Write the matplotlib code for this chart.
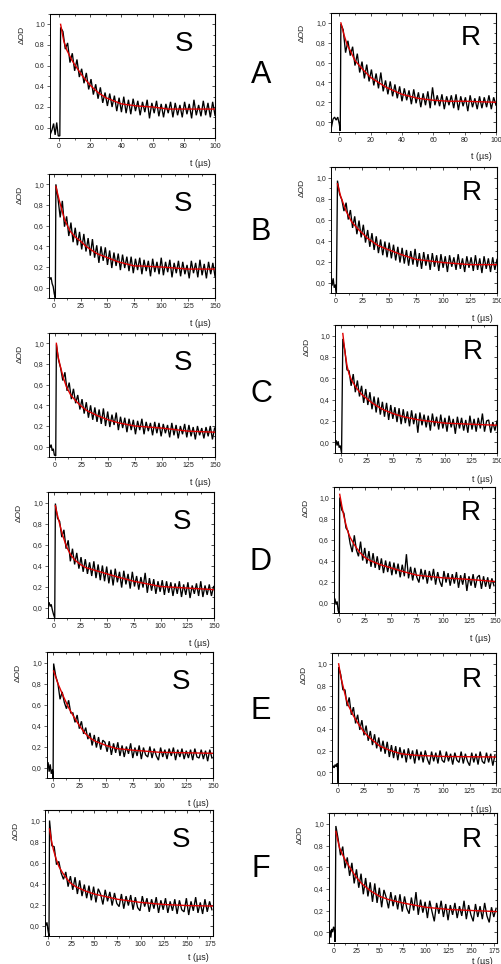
import numpy as np
import matplotlib
matplotlib.use("Agg")
import matplotlib.pyplot as plt
from matplotlib.ticker import FuncFormatter, MultipleLocator

plt.rcParams['font.family'] = ['Liberation Sans', 'DejaVu Sans']

W, H = 502, 964
row_labels = ["A", "B", "C", "D", "E", "F"]
col_labels = ["S", "R"]

# ---------------- transient absorption traces (ΔOD vs t, µs) ----------------
# A / S
as_pre_t = [-5.5, -4.5, -3.5, -2.5, -1.5, -0.5, 0.5]
as_pre_od = [-0.06, -0.02, 0.04, -0.07, 0.05, -0.08, -0.08]
as_start, as_dt = 1.0, 1.5
as_od = [0.97, 0.93, 0.76, 0.82, 0.63, 0.72, 0.55, 0.66, 0.49, 0.57, 0.43, 0.53, 0.37, 0.47,
         0.32, 0.42, 0.28, 0.39, 0.24, 0.34, 0.21, 0.33, 0.20, 0.31, 0.16, 0.29, 0.15, 0.30,
         0.14, 0.27, 0.13, 0.28, 0.16, 0.26, 0.12, 0.25, 0.15, 0.27, 0.09, 0.24, 0.14, 0.26,
         0.11, 0.23, 0.10, 0.23, 0.14, 0.25, 0.10, 0.24, 0.12, 0.22, 0.10, 0.25, 0.13, 0.23,
         0.09, 0.27, 0.12, 0.22, 0.11, 0.26, 0.12, 0.24, 0.10, 0.25, 0.12]
as_fit_t = [1, 3, 5, 8, 10, 15, 20, 25, 30, 35, 40, 50, 60, 70, 80, 100]
as_fit_od = [1.0, 0.84, 0.75, 0.66, 0.61, 0.50, 0.41, 0.34, 0.29, 0.26, 0.23, 0.21, 0.20, 0.18, 0.18, 0.18]

# A / R
ar_pre_t = [-5, -4, -3, -2, -1, 0, 0.6]
ar_pre_od = [-0.05, 0.03, 0.05, 0.02, 0.05, -0.02, -0.09]
ar_start, ar_dt = 1.0, 1.5
ar_od = [0.99, 0.93, 0.70, 0.82, 0.67, 0.76, 0.57, 0.69, 0.50, 0.61, 0.44, 0.58, 0.41, 0.53,
         0.37, 0.49, 0.34, 0.50, 0.31, 0.42, 0.28, 0.41, 0.26, 0.38, 0.24, 0.36, 0.21, 0.34,
         0.22, 0.32, 0.18, 0.33, 0.19, 0.30, 0.15, 0.29, 0.17, 0.31, 0.14, 0.35, 0.17, 0.27,
         0.16, 0.28, 0.13, 0.26, 0.17, 0.27, 0.14, 0.28, 0.12, 0.26, 0.16, 0.25, 0.11, 0.27,
         0.15, 0.24, 0.13, 0.26, 0.14, 0.25, 0.15, 0.27, 0.13, 0.25, 0.17]
ar_fit_t = [1, 3, 5, 7, 10, 15, 20, 25, 30, 40, 50, 60, 70, 80, 100]
ar_fit_od = [1.0, 0.88, 0.78, 0.72, 0.62, 0.53, 0.45, 0.40, 0.35, 0.28, 0.24, 0.22, 0.21, 0.21, 0.20]

# B / S
bs_pre_t = [-4.4, -3.5, -2.5, -1.5, -0.5, 0.5, 1.5]
bs_pre_od = [0.10, 0.08, 0.10, 0.04, 0.01, -0.06, -0.10]
bs_start, bs_dt = 2.0, 2.0
bs_od = [1.00, 0.86, 0.68, 0.84, 0.59, 0.69, 0.50, 0.63, 0.44, 0.58, 0.41, 0.54, 0.37, 0.52,
         0.35, 0.48, 0.31, 0.47, 0.29, 0.41, 0.24, 0.40, 0.26, 0.39, 0.22, 0.36, 0.19, 0.34,
         0.21, 0.33, 0.17, 0.32, 0.19, 0.30, 0.16, 0.30, 0.14, 0.28, 0.17, 0.29, 0.13, 0.27,
         0.16, 0.26, 0.11, 0.28, 0.15, 0.25, 0.13, 0.29, 0.12, 0.25, 0.15, 0.27, 0.10, 0.24,
         0.14, 0.26, 0.11, 0.25, 0.13, 0.22, 0.09, 0.26, 0.14, 0.24, 0.10, 0.27, 0.12, 0.23,
         0.09, 0.25, 0.13, 0.24, 0.11]
bs_fit_t = [2, 5, 10, 15, 20, 25, 30, 40, 50, 60, 75, 80, 100, 125, 150]
bs_fit_od = [0.98, 0.85, 0.66, 0.55, 0.49, 0.45, 0.40, 0.33, 0.29, 0.25, 0.21, 0.21, 0.20, 0.18, 0.18]

# B / R
br_pre_t = [-4, -3, -2, -1, 0, 1]
br_pre_od = [0.06, -0.03, 0.04, -0.05, -0.02, -0.10]
br_start, br_dt = 2.0, 2.0
br_od = [0.97, 0.84, 0.79, 0.68, 0.76, 0.60, 0.69, 0.52, 0.63, 0.46, 0.59, 0.43, 0.55, 0.38,
         0.50, 0.34, 0.47, 0.31, 0.44, 0.28, 0.41, 0.26, 0.39, 0.24, 0.38, 0.23, 0.36, 0.21,
         0.34, 0.19, 0.33, 0.18, 0.31, 0.16, 0.30, 0.17, 0.32, 0.15, 0.28, 0.13, 0.29, 0.16,
         0.27, 0.12, 0.28, 0.15, 0.26, 0.11, 0.27, 0.14, 0.25, 0.10, 0.26, 0.15, 0.24, 0.12,
         0.27, 0.13, 0.23, 0.10, 0.25, 0.14, 0.24, 0.11, 0.26, 0.12, 0.23, 0.09, 0.25, 0.13,
         0.23, 0.10, 0.24, 0.12, 0.22]
br_fit_t = [2, 5, 10, 15, 20, 25, 30, 40, 50, 60, 75, 100, 125, 150]
br_fit_od = [0.94, 0.82, 0.68, 0.58, 0.52, 0.47, 0.42, 0.35, 0.31, 0.27, 0.22, 0.19, 0.17, 0.17]

# C / S
cs_pre_t = [-5.3, -4.3, -3.3, -2.3, -1.3, -0.3, 1.0]
cs_pre_od = [0.03, -0.01, 0.02, -0.04, -0.02, -0.08, -0.09]
cs_start, cs_dt = 1.6, 2.0
cs_od = [0.99, 0.84, 0.76, 0.64, 0.72, 0.54, 0.62, 0.46, 0.56, 0.42, 0.50, 0.36, 0.46, 0.32,
         0.43, 0.28, 0.40, 0.26, 0.38, 0.24, 0.36, 0.22, 0.37, 0.20, 0.34, 0.19, 0.31, 0.21,
         0.33, 0.16, 0.29, 0.18, 0.28, 0.14, 0.27, 0.16, 0.26, 0.12, 0.25, 0.16, 0.27, 0.12,
         0.24, 0.15, 0.23, 0.11, 0.24, 0.13, 0.23, 0.10, 0.22, 0.13, 0.21, 0.09, 0.23, 0.11,
         0.21, 0.08, 0.20, 0.12, 0.22, 0.09, 0.21, 0.10, 0.19, 0.07, 0.20, 0.11, 0.18, 0.08,
         0.19, 0.10, 0.20, 0.07, 0.18]
cs_fit_t = [1.6, 3, 5, 8, 11, 15, 20, 25, 30, 40, 50, 60, 75, 100, 125, 150]
cs_fit_od = [1.0, 0.88, 0.79, 0.67, 0.58, 0.50, 0.44, 0.39, 0.35, 0.30, 0.26, 0.23, 0.20, 0.18, 0.15, 0.14]

# C / R
cr_pre_t = [-5.5, -4.5, -3.5, -2.5, -1.5, -0.5, 0.8]
cr_pre_od = [-0.02, 0.02, -0.03, 0.01, -0.05, -0.03, -0.10]
cr_start, cr_dt = 2.0, 2.0
cr_od = [0.97, 0.86, 0.68, 0.67, 0.53, 0.64, 0.47, 0.58, 0.43, 0.53, 0.37, 0.50, 0.35, 0.47,
         0.31, 0.43, 0.28, 0.42, 0.26, 0.38, 0.24, 0.37, 0.21, 0.35, 0.22, 0.33, 0.19, 0.32,
         0.17, 0.31, 0.18, 0.29, 0.15, 0.30, 0.17, 0.27, 0.09, 0.28, 0.16, 0.26, 0.14, 0.25,
         0.11, 0.27, 0.15, 0.24, 0.12, 0.26, 0.13, 0.23, 0.10, 0.25, 0.14, 0.22, 0.08, 0.24,
         0.13, 0.23, 0.11, 0.21, 0.09, 0.25, 0.12, 0.22, 0.10, 0.23, 0.13, 0.27, 0.10, 0.20,
         0.21, 0.09, 0.19, 0.11, 0.20]
cr_fit_t = [2, 4, 6, 8, 10, 15, 20, 25, 30, 40, 50, 60, 75, 100, 125, 150]
cr_fit_od = [1.02, 0.85, 0.72, 0.64, 0.59, 0.51, 0.45, 0.41, 0.37, 0.31, 0.27, 0.24, 0.21, 0.18, 0.17, 0.16]

# D / S
ds_pre_t = [-5.3, -4.3, -3.3, -2.3, -1.3, -0.3, 1.0]
ds_pre_od = [0.02, 0.05, 0.01, 0.03, -0.02, -0.06, -0.10]
ds_start, ds_dt = 1.6, 2.0
ds_od = [0.99, 0.85, 0.82, 0.67, 0.74, 0.56, 0.64, 0.44, 0.56, 0.41, 0.52, 0.37, 0.48, 0.34,
         0.46, 0.32, 0.43, 0.30, 0.44, 0.28, 0.41, 0.26, 0.40, 0.25, 0.39, 0.23, 0.36, 0.21,
         0.37, 0.24, 0.34, 0.19, 0.35, 0.22, 0.32, 0.18, 0.34, 0.20, 0.30, 0.17, 0.29, 0.19,
         0.33, 0.14, 0.28, 0.16, 0.27, 0.13, 0.25, 0.15, 0.26, 0.12, 0.25, 0.14, 0.24, 0.11,
         0.23, 0.13, 0.25, 0.10, 0.22, 0.12, 0.24, 0.09, 0.21, 0.13, 0.23, 0.11, 0.25, 0.10,
         0.21, 0.12, 0.22, 0.11, 0.20]
ds_fit_t = [1.6, 3, 5, 8, 12, 16, 20, 25, 30, 40, 50, 60, 75, 90, 100, 125, 150]
ds_fit_od = [0.97, 0.90, 0.82, 0.70, 0.58, 0.50, 0.45, 0.41, 0.38, 0.35, 0.32, 0.29, 0.25, 0.22, 0.20, 0.185, 0.17]

# D / R
dr_pre_t = [-4.5, -3.5, -2.5, -1.5, -0.5, 0.5]
dr_pre_od = [0.05, 0.03, -0.02, 0.01, -0.08, -0.10]
dr_start, dr_dt = 1.0, 2.0
dr_od = [1.00, 0.88, 0.85, 0.71, 0.68, 0.56, 0.48, 0.64, 0.50, 0.44, 0.58, 0.40, 0.52, 0.37,
         0.49, 0.34, 0.47, 0.33, 0.44, 0.31, 0.42, 0.28, 0.40, 0.29, 0.39, 0.26, 0.38, 0.27,
         0.37, 0.24, 0.36, 0.25, 0.46, 0.23, 0.34, 0.21, 0.33, 0.24, 0.19, 0.32, 0.22, 0.31,
         0.18, 0.30, 0.21, 0.32, 0.17, 0.29, 0.20, 0.15, 0.30, 0.19, 0.28, 0.16, 0.27, 0.18,
         0.29, 0.14, 0.26, 0.17, 0.28, 0.11, 0.25, 0.16, 0.27, 0.14, 0.24, 0.26, 0.13, 0.25,
         0.15, 0.24, 0.13, 0.23, 0.16]
dr_fit_t = [1, 3, 5, 7, 9, 11, 15, 20, 25, 30, 40, 50, 60, 75, 100, 125, 150]
dr_fit_od = [1.03, 0.92, 0.82, 0.74, 0.67, 0.62, 0.55, 0.48, 0.43, 0.40, 0.36, 0.33, 0.30, 0.26, 0.235, 0.22, 0.20]

# E / S
es_pre_t = [-5.2, -4.2, -3.2, -2.2, -1.2, -0.2, 0.5]
es_pre_od = [0.0, 0.05, -0.04, 0.03, -0.06, -0.02, -0.10]
es_start, es_dt = 1.0, 2.0
es_od = [0.99, 0.87, 0.80, 0.65, 0.72, 0.62, 0.56, 0.64, 0.52, 0.52, 0.43, 0.50, 0.37, 0.44,
         0.32, 0.38, 0.27, 0.33, 0.21, 0.31, 0.19, 0.29, 0.17, 0.26, 0.24, 0.15, 0.25, 0.12,
         0.23, 0.14, 0.24, 0.11, 0.21, 0.10, 0.20, 0.13, 0.23, 0.09, 0.19, 0.11, 0.21, 0.08,
         0.19, 0.12, 0.10, 0.20, 0.09, 0.18, 0.11, 0.07, 0.19, 0.10, 0.17, 0.08, 0.18, 0.11,
         0.19, 0.07, 0.17, 0.10, 0.18, 0.08, 0.16, 0.09, 0.17, 0.07, 0.18, 0.10, 0.09, 0.17,
         0.08, 0.16, 0.06, 0.17, 0.09]
es_fit_t = [1, 5, 10, 15, 20, 25, 30, 35, 40, 50, 60, 75, 100, 150]
es_fit_od = [0.92, 0.80, 0.68, 0.57, 0.48, 0.40, 0.33, 0.28, 0.25, 0.21, 0.18, 0.165, 0.145, 0.135]

# E / R
er_pre_t = [-5.3, -4.3, -3.3, -2.3, -1.3, -0.3, 0.6]
er_pre_od = [0.03, 0.06, 0.04, 0.07, 0.05, 0.08, -0.10]
er_start, er_dt = 1.0, 2.0
er_od = [0.97, 0.90, 0.76, 0.76, 0.61, 0.69, 0.53, 0.60, 0.45, 0.53, 0.39, 0.48, 0.34, 0.43,
         0.29, 0.38, 0.25, 0.35, 0.22, 0.32, 0.19, 0.29, 0.17, 0.28, 0.14, 0.25, 0.13, 0.24,
         0.11, 0.23, 0.13, 0.21, 0.09, 0.22, 0.12, 0.20, 0.08, 0.21, 0.11, 0.19, 0.09, 0.20,
         0.12, 0.07, 0.19, 0.10, 0.18, 0.08, 0.20, 0.11, 0.09, 0.19, 0.10, 0.17, 0.07, 0.18,
         0.11, 0.09, 0.19, 0.08, 0.17, 0.10, 0.06, 0.18, 0.09, 0.17, 0.07, 0.19, 0.10, 0.08,
         0.18, 0.09, 0.17, 0.06, 0.16]
er_fit_t = [1, 3, 5, 8, 10, 15, 20, 25, 30, 40, 50, 60, 75, 100, 150]
er_fit_od = [1.0, 0.88, 0.80, 0.68, 0.62, 0.52, 0.44, 0.37, 0.32, 0.24, 0.20, 0.17, 0.155, 0.145, 0.14]

# F / S
fs_pre_t = [-3.0, -2.0, -1.0, 0.0, 1.2]
fs_pre_od = [0.03, 0.0, 0.03, -0.04, -0.10]
fs_start, fs_dt = 1.8, 2.5
fs_od = [1.00, 0.76, 0.75, 0.58, 0.61, 0.50, 0.44, 0.51, 0.37, 0.47, 0.34, 0.46, 0.30, 0.43,
         0.28, 0.39, 0.26, 0.38, 0.24, 0.37, 0.22, 0.35, 0.30, 0.20, 0.34, 0.23, 0.32, 0.19,
         0.31, 0.21, 0.18, 0.30, 0.16, 0.28, 0.19, 0.29, 0.15, 0.27, 0.17, 0.14, 0.28, 0.18,
         0.26, 0.13, 0.25, 0.16, 0.27, 0.12, 0.24, 0.15, 0.26, 0.12, 0.23, 0.14, 0.25, 0.11,
         0.24, 0.15, 0.13, 0.26, 0.10, 0.23, 0.14, 0.27, 0.12, 0.22, 0.11, 0.25, 0.13, 0.23,
         0.15]
fs_fit_t = [1.8, 4, 6, 9, 12, 16, 20, 25, 30, 40, 50, 60, 75, 100, 125, 150, 178]
fs_fit_od = [0.92, 0.80, 0.72, 0.63, 0.56, 0.50, 0.45, 0.40, 0.37, 0.33, 0.30, 0.28, 0.25, 0.22, 0.20, 0.19, 0.185]

# F / R
fr_pre_t = [-5.5, -4.5, -3.5, -2.5, -1.5, -0.5, 0.5, 1.2]
fr_pre_od = [-0.04, 0.02, -0.05, 0.03, 0.0, 0.05, 0.02, -0.09]
fr_start, fr_dt = 2.0, 2.5
fr_od = [0.98, 0.86, 0.71, 0.79, 0.59, 0.69, 0.52, 0.64, 0.45, 0.58, 0.41, 0.54, 0.35, 0.50,
         0.33, 0.46, 0.28, 0.45, 0.27, 0.41, 0.23, 0.39, 0.32, 0.22, 0.37, 0.24, 0.34, 0.21,
         0.35, 0.19, 0.33, 0.22, 0.17, 0.32, 0.20, 0.37, 0.16, 0.30, 0.18, 0.28, 0.13, 0.29,
         0.19, 0.10, 0.27, 0.17, 0.29, 0.14, 0.26, 0.11, 0.25, 0.16, 0.27, 0.13, 0.24, 0.15,
         0.29, 0.12, 0.25, 0.16, 0.10, 0.26, 0.14, 0.24, 0.12, 0.27, 0.15, 0.09, 0.23, 0.14,
         0.22]
fr_fit_t = [2, 4, 6, 9, 12, 17, 20, 25, 30, 40, 50, 60, 75, 100, 125, 150, 178]
fr_fit_od = [0.93, 0.85, 0.78, 0.72, 0.67, 0.60, 0.56, 0.50, 0.45, 0.38, 0.33, 0.30, 0.27, 0.23, 0.21, 0.20, 0.19]

# x-axis ranges and tick spacing per row
row_xmax = [100, 150, 150, 150, 150, 178]
row_xmajor = [20, 25, 25, 25, 25, 25]
row_xminor = [10, 12.5, 12.5, 12.5, 12.5, 12.5]
panel_xmin = [[-5.8, -5.3], [-4.4, -4.0], [-5.3, -5.5], [-5.3, -4.5], [-5.2, -5.3], [-3.1, -5.5]]

# axes boxes (left, top, right, bottom) in pixels
boxes = [
    [(50, 14, 215, 138), (331, 13, 496, 132)],
    [(49, 174, 215, 298), (331, 167, 497, 293)],
    [(49, 333, 215, 457), (335, 325, 497, 453)],
    [(48, 492, 214, 618), (334, 487, 495, 613)],
    [(47, 652, 213, 778), (332, 653, 496, 783)],
    [(45, 810, 213, 936), (329, 813, 497, 943)],
]
xlabel_y = [[-0.17, -0.17]] * 5 + [[-0.135, -0.105]]
row_label_y = [75, 232, 394, 562, 711, 869]

panels = [
    [(as_pre_t, as_pre_od, as_start, as_dt, as_od, as_fit_t, as_fit_od),
     (ar_pre_t, ar_pre_od, ar_start, ar_dt, ar_od, ar_fit_t, ar_fit_od)],
    [(bs_pre_t, bs_pre_od, bs_start, bs_dt, bs_od, bs_fit_t, bs_fit_od),
     (br_pre_t, br_pre_od, br_start, br_dt, br_od, br_fit_t, br_fit_od)],
    [(cs_pre_t, cs_pre_od, cs_start, cs_dt, cs_od, cs_fit_t, cs_fit_od),
     (cr_pre_t, cr_pre_od, cr_start, cr_dt, cr_od, cr_fit_t, cr_fit_od)],
    [(ds_pre_t, ds_pre_od, ds_start, ds_dt, ds_od, ds_fit_t, ds_fit_od),
     (dr_pre_t, dr_pre_od, dr_start, dr_dt, dr_od, dr_fit_t, dr_fit_od)],
    [(es_pre_t, es_pre_od, es_start, es_dt, es_od, es_fit_t, es_fit_od),
     (er_pre_t, er_pre_od, er_start, er_dt, er_od, er_fit_t, er_fit_od)],
    [(fs_pre_t, fs_pre_od, fs_start, fs_dt, fs_od, fs_fit_t, fs_fit_od),
     (fr_pre_t, fr_pre_od, fr_start, fr_dt, fr_od, fr_fit_t, fr_fit_od)],
]

fig = plt.figure(figsize=(W / 100, H / 100), dpi=100)


def frac(box):
    l, t, r, b = box
    return [l / W, 1 - b / H, (r - l) / W, (b - t) / H]


def decimal_fmt(sep):
    return FuncFormatter(lambda v, p: f"{v:.1f}".replace(".", sep))


for i in range(6):
    for j in range(2):
        pre_t, pre_od, start, dt, od, fit_t, fit_od = panels[i][j]
        ax = fig.add_axes(frac(boxes[i][j]))
        t = start + dt * np.arange(len(od))
        ax.plot(np.concatenate([pre_t, t]), np.concatenate([pre_od, od]),
                color="black", lw=0.95, solid_joinstyle="miter")
        ax.plot(fit_t, fit_od, color="#e00000", lw=1.0)
        ax.set_xlim(panel_xmin[i][j], row_xmax[i])
        ax.set_ylim(-0.1, 1.1)

        ax.xaxis.set_major_locator(MultipleLocator(row_xmajor[i]))
        ax.xaxis.set_minor_locator(MultipleLocator(row_xminor[i]))
        ax.yaxis.set_major_locator(MultipleLocator(0.2))
        ax.yaxis.set_minor_locator(MultipleLocator(0.1))
        sep = "." if (i == 0 and j == 0) else ","
        ax.yaxis.set_major_formatter(decimal_fmt(sep))
        ax.set_yticks([0.0, 0.2, 0.4, 0.6, 0.8, 1.0])

        ax.tick_params(which="both", direction="out", labelsize=5, width=0.5,
                       colors="#222222", pad=1.5)
        ax.tick_params(which="major", length=2.2)
        ax.tick_params(which="minor", length=1.2)
        for s in ax.spines.values():
            s.set_linewidth(0.7)

        secx = ax.secondary_xaxis("top")
        secx.xaxis.set_major_locator(MultipleLocator(row_xmajor[i]))
        secx.xaxis.set_minor_locator(MultipleLocator(row_xminor[i]))
        secx.tick_params(which="both", direction="in", labeltop=False, width=0.5)
        secx.tick_params(which="major", length=2.2)
        secx.tick_params(which="minor", length=1.2)
        secy = ax.secondary_yaxis("right")
        secy.yaxis.set_major_locator(MultipleLocator(0.2))
        secy.yaxis.set_minor_locator(MultipleLocator(0.1))
        secy.tick_params(which="both", direction="in", labelright=False, width=0.5)
        secy.tick_params(which="major", length=2.2)
        secy.tick_params(which="minor", length=1.2)

        ax.set_ylabel("ΔOD", fontsize=6, color="#222222")
        ax.yaxis.set_label_coords(-0.15, 0.83)
        ax.set_xlabel("t (µs)", fontsize=6.5, color="#222222")
        ax.xaxis.set_label_coords(0.91, xlabel_y[i][j])

        if j == 0:
            ax.text(0.81, 0.76, col_labels[j], transform=ax.transAxes,
                    fontsize=20, ha="center", va="center")
        else:
            ax.text(0.85, 0.79, col_labels[j], transform=ax.transAxes,
                    fontsize=20, ha="center", va="center")

    fig.text(261 / W, 1 - row_label_y[i] / H, row_labels[i], fontsize=22,
             ha="center", va="center")

fig.savefig("out.png", dpi=100)
